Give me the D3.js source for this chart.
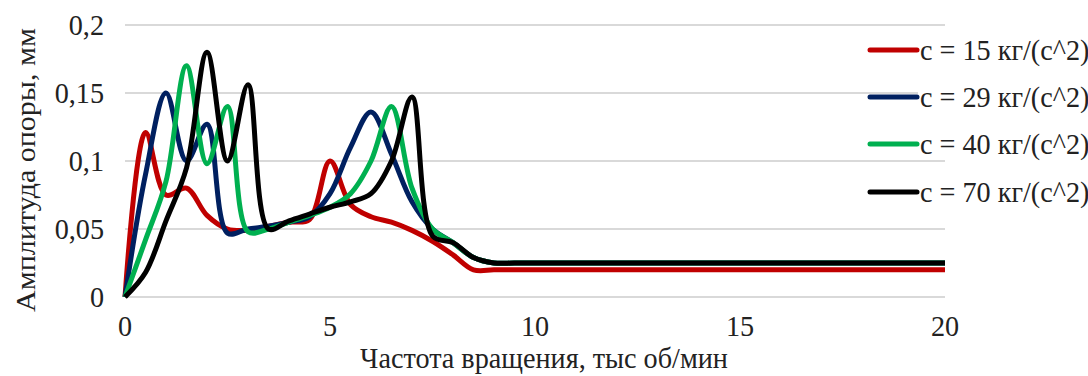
<!doctype html>
<html lang="ru">
  <head>
    <meta charset="utf-8">
    <title>Амплитуда опоры</title>
    <script src="https://d3js.org/d3.v7.min.js"></script>
    <style>
      body { margin: 0; background: #fff; }
      text { font-family: "Liberation Serif", "Times New Roman", serif; fill: #222; }
    </style>
  </head>

  <body>
    <svg width="1088" height="376"></svg>
    <script>
      // частота, тыс об/мин
      var freq = [0, 0.5, 1, 1.5, 2, 2.5, 3, 3.5, 4, 4.5, 5, 5.5, 6, 6.5, 7, 7.5, 8, 8.5, 9, 9.5, 10,
                  11, 12, 13, 14, 15, 16, 17, 18, 19, 20];

      var amp15 = [0, 0.121, 0.075, 0.08, 0.06, 0.05, 0.049, 0.052, 0.055, 0.057, 0.1, 0.068, 0.059, 0.055, 0.049, 0.041, 0.031, 0.02, 0.02, 0.02, 0.02,
                   0.02, 0.02, 0.02, 0.02, 0.02, 0.02, 0.02, 0.02, 0.02, 0.02];
      var amp29 = [0, 0.09, 0.15, 0.1, 0.127, 0.047, 0.05, 0.052, 0.055, 0.059, 0.076, 0.11, 0.136, 0.105, 0.07, 0.05, 0.04, 0.029, 0.025, 0.025, 0.025,
                   0.025, 0.025, 0.025, 0.025, 0.025, 0.025, 0.025, 0.025, 0.025, 0.025];
      var amp40 = [0, 0.042, 0.085, 0.17, 0.098, 0.14, 0.048, 0.05, 0.055, 0.06, 0.066, 0.076, 0.1, 0.14, 0.08, 0.05, 0.04, 0.029, 0.025, 0.025, 0.025,
                   0.025, 0.025, 0.025, 0.025, 0.025, 0.025, 0.025, 0.025, 0.025, 0.025];
      var amp70 = [0, 0.018, 0.056, 0.095, 0.18, 0.1, 0.156, 0.05, 0.056, 0.061, 0.066, 0.07, 0.076, 0.1, 0.147, 0.045, 0.04, 0.029, 0.025, 0.025, 0.025,
                   0.025, 0.025, 0.025, 0.025, 0.025, 0.025, 0.025, 0.025, 0.025, 0.025];

      var seriesNames = ['c = 15 кг/(с^2)', 'c = 29 кг/(с^2)', 'c = 40 кг/(с^2)', 'c = 70 кг/(с^2)'];
      var seriesColors = ['#c00000', '#002060', '#00b050', '#000000'];
      var seriesValues = [amp15, amp29, amp40, amp70];

      var xTicks = [0, 5, 10, 15, 20];
      var yTicks = [0, 0.05, 0.1, 0.15, 0.2];

      var svg = d3.select('svg');
      var sx = 0.94; // шрифт в оригинале чуть сжат по горизонтали
      var fs = '30px';

      var x = d3.scaleLinear().domain([0, 20]).range([125, 945]);
      var y = d3.scaleLinear().domain([0, 0.2]).range([297, 25]);

      var fmt = function(d){ return String(d).replace('.', ','); };

      // сетка
      svg.append('g')
        .selectAll('line')
        .data(yTicks)
        .enter().append('line')
          .attr('x1', x(0)).attr('x2', x(20))
          .attr('y1', function(d){ return y(d); })
          .attr('y2', function(d){ return y(d); })
          .style('stroke', '#d9d9d9')
          .style('stroke-width', 2);

      // подписи осей
      svg.append('g')
        .selectAll('text')
        .data(yTicks)
        .enter().append('text')
          .attr('transform', function(d){ return 'translate(104,' + (y(d) + 10) + ') scale(' + sx + ',1)'; })
          .attr('text-anchor', 'end')
          .style('font-size', fs)
          .text(fmt);

      svg.append('g')
        .selectAll('text')
        .data(xTicks)
        .enter().append('text')
          .attr('transform', function(d){ return 'translate(' + x(d) + ',336) scale(' + sx + ',1)'; })
          .attr('text-anchor', 'middle')
          .style('font-size', fs)
          .text(function(d){ return d; });

      svg.append('text')
        .attr('transform', 'translate(544,368) scale(' + sx + ',1)')
        .attr('text-anchor', 'middle')
        .style('font-size', fs)
        .text('Частота вращения, тыс об/мин');

      svg.append('text')
        .attr('transform', 'translate(35,170) scale(' + sx + ',1) rotate(-90)')
        .attr('text-anchor', 'middle')
        .style('font-size', fs)
        .text('Амплитуда опоры, мм');

      // кривые
      var line = d3.line()
        .x(function(d, i){ return x(freq[i]); })
        .y(function(d){ return y(d); })
        .curve(d3.curveCatmullRom.alpha(0.5));

      svg.append('g')
        .selectAll('path')
        .data(seriesValues)
        .enter().append('path')
          .attr('d', line)
          .style('fill', 'none')
          .style('stroke', function(d, i){ return seriesColors[i]; })
          .style('stroke-width', 5)
          .style('stroke-linejoin', 'round');

      // легенда
      var legendY = [50, 97, 144, 192];
      var legend = svg.append('g')
        .selectAll('g')
        .data(seriesNames)
        .enter().append('g')
          .attr('transform', function(d, i){ return 'translate(870,' + legendY[i] + ')'; });

      legend.append('rect')
        .attr('x', 48).attr('y', -15)
        .attr('width', 175).attr('height', 30)
        .style('fill', '#fff');

      legend.append('line')
        .attr('x1', 0).attr('x2', 47)
        .style('stroke', function(d, i){ return seriesColors[i]; })
        .style('stroke-width', 5)
        .style('stroke-linecap', 'round');

      legend.append('text')
        .attr('transform', 'translate(50,10) scale(' + sx + ',1)')
        .style('font-size', fs)
        .text(function(d){ return d; });
    </script>
  </body>
</html>
